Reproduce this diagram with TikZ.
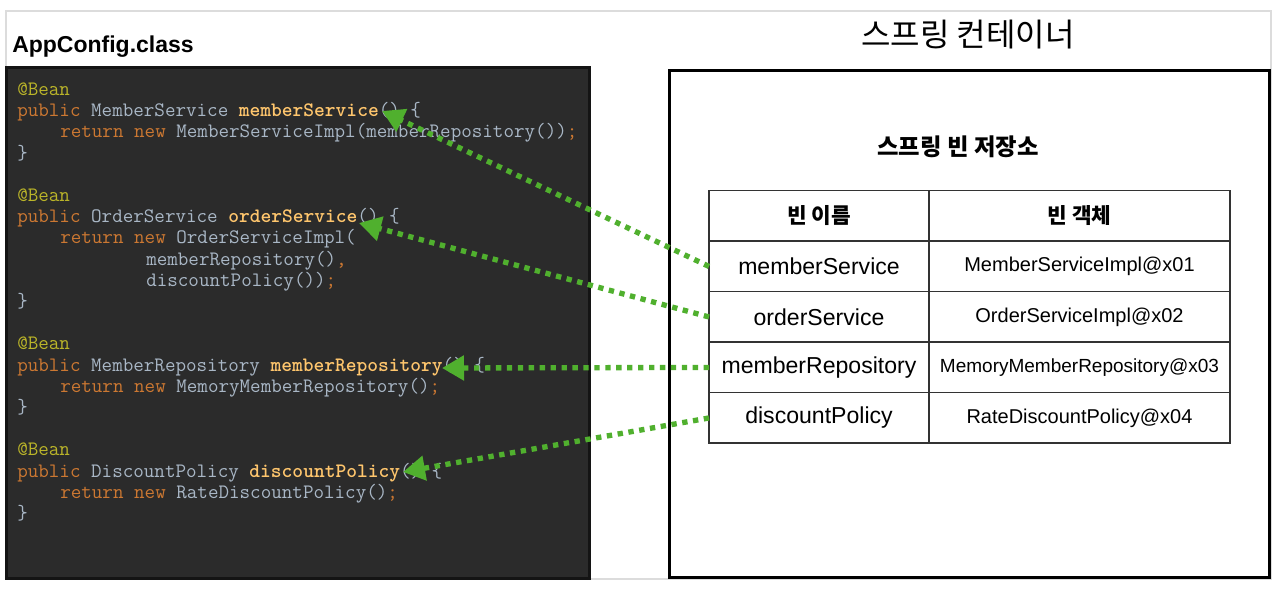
\documentclass[tikz,border=0pt]{standalone}
\usepackage{fontspec}
\newfontfamily\lsans{Liberation Sans}
\newfontfamily\krfont{Noto Sans CJK KR}
\usetikzlibrary{arrows.meta}
\definecolor{codebg}{HTML}{2B2B2B}
\definecolor{codeborder}{HTML}{141414}
\definecolor{annc}{HTML}{BBB529}
\definecolor{kwc}{HTML}{CC7832}
\definecolor{idc}{HTML}{A9B7C6}
\definecolor{fnc}{HTML}{FFC66D}
\definecolor{arrowgreen}{RGB}{80,176,46}
\definecolor{framegray}{HTML}{DCDCDC}
\definecolor{tablec}{HTML}{333333}
\newcommand\cann[1]{\textcolor{annc}{#1}}
\newcommand\ckw[1]{\textcolor{kwc}{#1}}
\newcommand\cfn[1]{\textcolor{fnc}{\bfseries #1}}
\tikzset{
  code/.style={anchor=base west, inner sep=0pt, text=idc, font=\ttfamily\fontsize{15.37}{18}\selectfont},
  cell/.style={draw=tablec, line width=1.1pt, inner sep=0pt, outer sep=0pt, minimum height=37.9pt},
  lcell/.style={cell, minimum width=165pt, font=\lsans\fontsize{17.3}{20}\selectfont},
  rcell/.style={cell, minimum width=225.75pt, font=\lsans\fontsize{15}{18}\selectfont},
  hcell/.style={font=\krfont\bfseries\fontsize{16}{18}\selectfont},
  depend/.style={arrowgreen, line width=4pt, dash pattern=on 4pt off 4.2pt,
    -{Triangle[length=16.5pt,width=18pt]}},
}
\begin{document}
\begin{tikzpicture}[x=0.75pt,y=-0.75pt]
\useasboundingbox (0,0) rectangle (1282,590);
\fill[white] (0,0) rectangle (1282,590);
\draw[framegray, line width=1.5pt] (6,11) rectangle (1271,579);

% code box
\node[draw=codeborder, fill=codebg, line width=2.25pt, inner sep=0pt, outer sep=0pt,
  minimum width=437.25pt, minimum height=383.25pt] (codebox) at (297.5,322.5) {};
\node[anchor=base west, inner sep=0pt, font=\lsans\bfseries\fontsize{17.25}{20}\selectfont] (apptitle) at (12,52) {AppConfig.class};

\node[code] (c0) at (17,95.5) {\cann{@Bean}};
\node[code] (c1) at (17,116.7) {\ckw{public} MemberService \cfn{memberService}() \{};
\node[code] (c2) at (60,137.9) {\ckw{return new} MemberServiceImpl(memberRepository())\ckw{;}};
\node[code] (c3) at (17,159.1) {\}};
\node[code] (c5) at (17,201.5) {\cann{@Bean}};
\node[code] (c6) at (17,222.7) {\ckw{public} OrderService \cfn{orderService}() \{};
\node[code] (c7) at (60,243.9) {\ckw{return new} OrderServiceImpl(};
\node[code] (c8) at (146,265.1) {memberRepository()\ckw{,}};
\node[code] (c9) at (146,286.3) {discountPolicy())\ckw{;}};
\node[code] (c10) at (17,307.5) {\}};
\node[code] (c12) at (17,349.9) {\cann{@Bean}};
\node[code] (c13) at (17,371.1) {\ckw{public} MemberRepository \cfn{memberRepository}() \{};
\node[code] (c14) at (60,392.3) {\ckw{return new} MemoryMemberRepository()\ckw{;}};
\node[code] (c15) at (17,413.5) {\}};
\node[code] (c17) at (17,455.9) {\cann{@Bean}};
\node[code] (c18) at (17,477.1) {\ckw{public} DiscountPolicy \cfn{discountPolicy}() \{};
\node[code] (c19) at (60,498.3) {\ckw{return new} RateDiscountPolicy()\ckw{;}};
\node[code] (c20) at (17,519.5) {\}};

% container
\node[draw=black, line width=2.25pt, inner sep=0pt, outer sep=0pt,
  minimum width=450pt, minimum height=380.25pt] (container) at (969,323.5) {};
\node[inner sep=0pt, font=\krfont\fontsize{24}{28}\selectfont] (ctitle) at (968,35) {스프링 컨테이너};
\node[inner sep=0pt, font=\krfont\bfseries\fontsize{17.5}{20}\selectfont] (storetitle) at (958,147) {스프링 빈 저장소};

% table
\node[lcell, hcell] (h1) at (819,215.95) {빈 이름};
\node[rcell, hcell] (h2) at (1079.5,215.95) {빈 객체};
\node[lcell] (n1) at (819,266.45) {memberService};
\node[rcell] (o1) at (1079.5,266.45) {MemberServiceImpl@x01};
\node[lcell] (n2) at (819,316.95) {orderService};
\node[rcell] (o2) at (1079.5,316.95) {OrderServiceImpl@x02};
\node[lcell] (n3) at (819,367.45) {memberRepository};
\node[rcell, font=\lsans\fontsize{14.25}{17}\selectfont] (o3) at (1079.5,367.45) {MemoryMemberRepository@x03};
\node[lcell] (n4) at (819,417.95) {discountPolicy};
\node[rcell] (o4) at (1079.5,417.95) {RateDiscountPolicy@x04};
\draw[tablec, line width=1.8pt] (h1.south west) -- (h2.south east);

% arrow tips
\coordinate (t1) at (382,111);
\coordinate (t2) at (359,223);
\coordinate (t3) at (442,368);
\coordinate (t4) at (403,472);
\draw[depend] (n1.west) -- (t1);
\draw[depend] (n2.west) -- (t2);
\draw[depend] (n3.west) -- (t3);
\draw[depend] (n4.west) -- (t4);
\end{tikzpicture}
\end{document}
